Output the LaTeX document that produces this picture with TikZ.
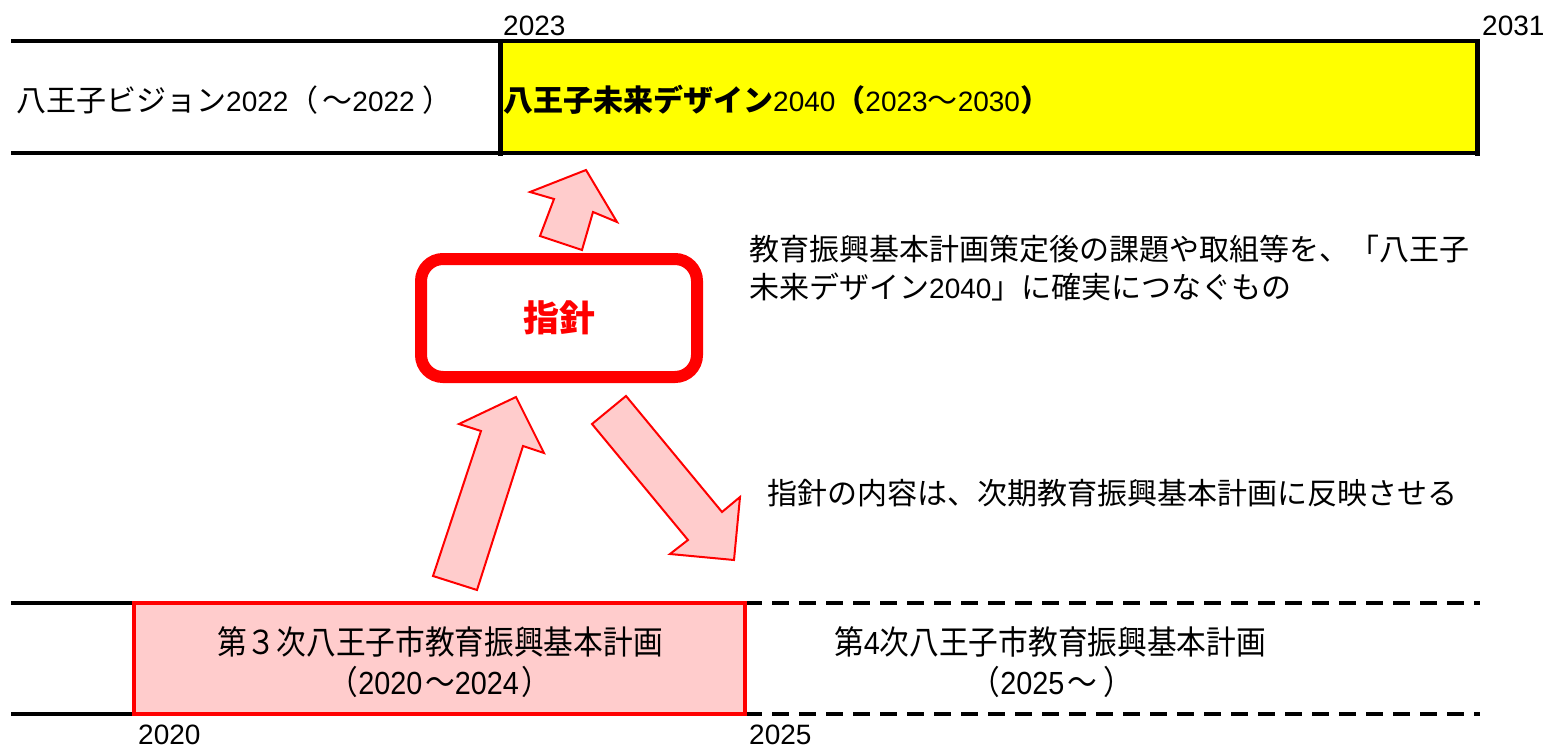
\documentclass[tikz,border=0pt]{standalone}
\usepackage{fontspec}
\setmainfont{Liberation Sans}
\newfontfamily\cjk{Noto Sans CJK JP}
\newcommand{\J}[1]{{\cjk\fontsize{30}{36}\selectfont #1}}
\newcommand{\JB}[1]{{\cjk\fontsize{33}{38}\selectfont #1}}
\definecolor{ylw}{RGB}{255,255,0}
\definecolor{rd}{RGB}{255,0,0}
\definecolor{pk}{RGB}{255,204,204}
\tikzset{
  bar/.style={line width=4},
  blockarrow/.style={draw=rd, fill=pk, line width=2, line join=miter},
  lbl/.style={inner sep=0, anchor=west, font=\fontsize{28}{34}\selectfont},
  ctr/.style={inner sep=0, anchor=center, font=\fontsize{32}{38}\selectfont},
}
\begin{document}
\begin{tikzpicture}[x=1pt,y=-1pt]
\useasboundingbox (0,0) rectangle (1545,749);
% top bar
\fill[ylw] (500,41) rectangle (1477,153);
\draw[bar] (11,41) -- (1477,41);
\draw[bar] (11,153) -- (1477,153);
\draw[line width=5] (500,39) -- (500,156);
\draw[line width=5] (1477,39) -- (1477,156);
\node[lbl] (y2023) at (503,26) {2023};
\node[lbl] (y2031) at (1482,26) {2031};
\node[lbl] (vision) at (16,100) {\J{八王子ビジョン}2022\J{（}\hspace{4pt}\J{～}2022\hspace{8pt}\J{）}};
\node[lbl] (design) at (503,100) {\J{\bfseries 八王子未来デザイン}2040\J{\bfseries （}2023\J{～}2030\J{\bfseries ）}};
% guideline box
\node[draw=rd, line width=12, rounded corners=22, minimum width=276, minimum height=118, inner sep=0,
      font=\fontsize{36}{40}\selectfont\cjk\bfseries, text=rd] (shishin) at (559,318) {指針};
% arrows
\draw[blockarrow] (586,170) -- (617,222) -- (593,212) -- (582,250) -- (540,236) -- (554,199) -- (530,192) -- cycle;
\draw[blockarrow] (516,397) -- (544,453) -- (523,446) -- (477,590) -- (433,576) -- (481,431) -- (459,424) -- cycle;
\draw[blockarrow] (626,396) -- (722,512) -- (740,497) -- (734,560) -- (670,554) -- (688,540) -- (592,424) -- cycle;
% right texts
\node[lbl] (note1) at (749,249) {\J{教育振興基本計画策定後の課題や取組等を、「八王子}};
\node[lbl] (note2) at (749,287) {\J{未来デザイン}2040\J{」に確実につなぐもの}};
\node[lbl] (note3) at (767,493) {\J{指針の内容は、次期教育振興基本計画に反映させる}};
% bottom bar
\draw[bar] (11,603) -- (134,603);
\draw[bar] (11,714) -- (134,714);
\draw[bar, dash pattern=on 17 off 10] (745,603) -- (1480,603);
\draw[bar, dash pattern=on 17 off 10] (745,714) -- (1480,714);
\draw[draw=rd, fill=pk, line width=4] (134,603) rectangle (745,714);
\node[ctr] (plan3) at (440,642) {\scalebox{0.9}[1]{\JB{第３次八王子市教育振興基本計画}}};
\node[ctr] (plan3y) at (440,682) {\scalebox{0.9}[1]{\JB{（}2020\hspace{3pt}\JB{～}2024\hspace{3pt}\JB{）}}};
\node[ctr] (plan4) at (1050,642) {\scalebox{0.9}[1]{\JB{第}4\JB{次八王子市教育振興基本計画}}};
\node[ctr] (plan4y) at (1052,682) {\scalebox{0.9}[1]{\JB{（}2025\hspace{3pt}\JB{～ ）}}};
\node[lbl] (y2020) at (138,735) {2020};
\node[lbl] (y2025) at (749,735) {2025};
\end{tikzpicture}
\end{document}
